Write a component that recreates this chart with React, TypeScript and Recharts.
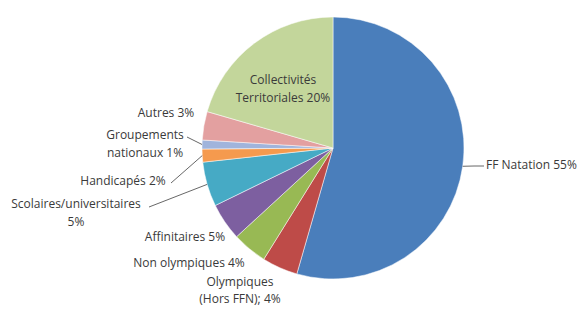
import React from 'react';
import { PieChart, Pie, Cell } from 'recharts';

const names = [
  'FF Natation',
  'Olympiques (Hors FFN)',
  'Non olympiques',
  'Affinitaires',
  'Scolaires/universitaires',
  'Handicapés',
  'Groupements nationaux',
  'Autres',
  'Collectivités Territoriales',
];
const values = [54.4, 4.4, 4.3, 4.6, 5.5, 1.6, 1.1, 3.5, 20.5];
const labelLines = [
  ['FF Natation  55%'],
  ['Olympiques', '(Hors FFN); 4%'],
  ['Non olympiques 4%'],
  ['Affinitaires 5%'],
  ['Scolaires/universitaires', '5%'],
  ['Handicapés 2%'],
  ['Groupements', 'nationaux 1%'],
  ['Autres 3%'],
  ['Collectivités', 'Territoriales 20%'],
];
const colors = ['#4A7EBB', '#BE4B48', '#98B954', '#7D5FA0', '#46AAC5', '#F59A4E', '#A0B4DC', '#E3A0A0', '#C3D69B'];

const data = names.map((n, i) => ({ name: n, value: values[i] }));

const labelLayout: { x: number; y: number; anchor: 'start' | 'middle' | 'end'; gap: number; line?: [number, number] }[] = [
  { x: 486, y: 169, anchor: 'start', gap: 18, line: [484, 166] },
  { x: 240, y: 286, anchor: 'middle', gap: 17 },
  { x: 189, y: 267, anchor: 'middle', gap: 18 },
  { x: 185, y: 241, anchor: 'middle', gap: 18 },
  { x: 76, y: 208, anchor: 'middle', gap: 18, line: [149, 207] },
  { x: 123, y: 185, anchor: 'middle', gap: 18, line: [171, 183] },
  { x: 145, y: 139, anchor: 'middle', gap: 18, line: [187, 137] },
  { x: 166, y: 117, anchor: 'middle', gap: 18 },
  { x: 283, y: 84, anchor: 'middle', gap: 18 },
];

const RAD = Math.PI / 180;

const renderLabel = (props: any) => {
  const { cx, cy, midAngle, outerRadius, index } = props;
  const lay = labelLayout[index];
  const lines = labelLines[index];
  const ex = cx + outerRadius * Math.cos(-midAngle * RAD);
  const ey = cy + outerRadius * Math.sin(-midAngle * RAD);
  return (
    <g key={'lbl' + index}>
      {lay.line && (
        <polyline
          points={`${lay.line[0]},${lay.line[1]} ${lay.line[0] + (lay.anchor === 'start' ? -10 : 0)},${lay.line[1]} ${ex},${ey}`}
          fill="none"
          stroke="#404040"
          strokeWidth={0.8}
        />
      )}
      <text
        x={lay.x}
        y={lay.y}
        textAnchor={lay.anchor}
        fill="#3a3a3a"
        fontSize={12}
        fontFamily="'Open Sans', sans-serif"
      >
        {lines.map((l, j) => (
          <tspan key={j} x={lay.x} dy={j === 0 ? 0 : lay.gap}>
            {l}
          </tspan>
        ))}
      </text>
    </g>
  );
};

export default function App() {
  return (
    <div style={{ position: 'absolute', left: 0, top: 0, width: 588, height: 309, background: '#fff' }}>
      <PieChart width={588} height={309} margin={{ top: 0, right: 0, bottom: 0, left: 0 }}>
        <Pie
          data={data}
          dataKey="value"
          nameKey="name"
          cx={333}
          cy={148}
          outerRadius={131}
          startAngle={90}
          endAngle={-270}
          stroke="#ffffff"
          strokeWidth={0.5}
          isAnimationActive={false}
          label={renderLabel}
          labelLine={false}
        >
          {data.map((d, i) => (
            <Cell key={d.name} fill={colors[i]} />
          ))}
        </Pie>
      </PieChart>
    </div>
  );
}
